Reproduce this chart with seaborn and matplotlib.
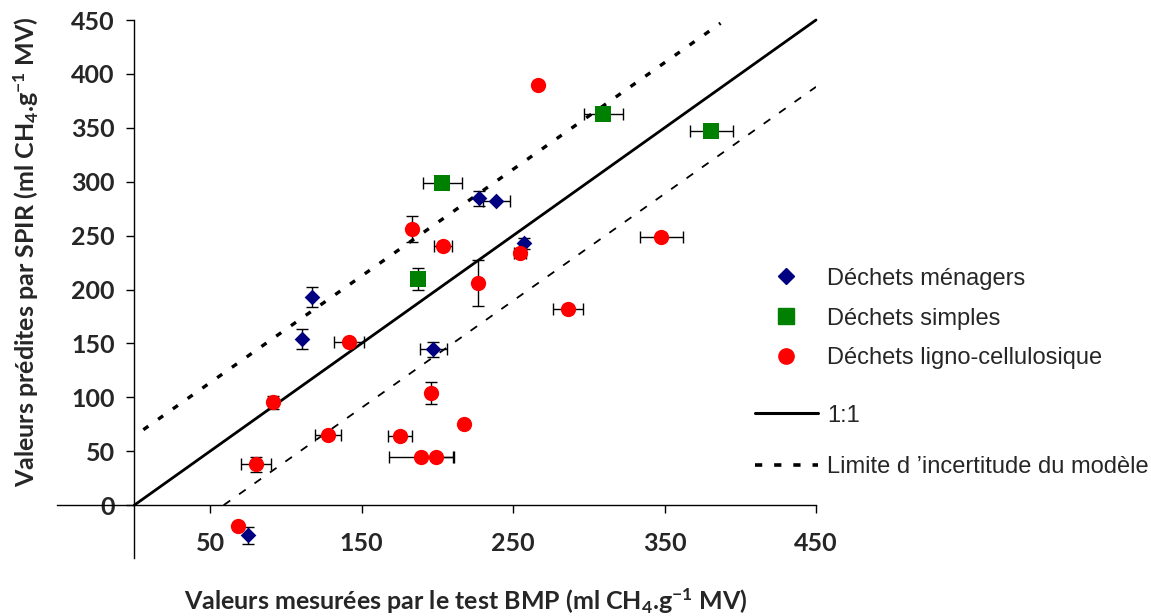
#%% IMPORTS
import numpy as np
import pandas as pd
import matplotlib
matplotlib.use("Agg")
import matplotlib.pyplot as plt
import seaborn as sns
from matplotlib.lines import Line2D

#%% DATOS
# Déchets ménagers (losanges)
men_x = [117.5, 110.9, 197.4, 227.7, 239.0, 257.4, 75.2]
men_y = [193.0, 154.0, 144.7, 284.8, 282.0, 243.0, -27.8]
men_xerr = [0, 0, 9, 0, 9, 0, 0]
men_yerr = [9, 9.5, 7, 7, 0, 5, 8]

# Déchets simples (carrés)
simp_x = [309.6, 380.9, 203.3, 187.5]
simp_y = [362.7, 347.0, 298.7, 209.6]
simp_xerr = [13, 14, 13, 0]
simp_yerr = [0, 0, 0, 10]

# Déchets ligno-cellulosique (ronds)
ligno_x = [266.7, 183.5, 204.0, 254.8, 227.0, 286.5, 347.9, 141.9, 91.7,
           196.0, 217.8, 128.0, 175.6, 189.4, 199.3, 80.5, 68.6]
ligno_y = [389.6, 256.0, 240.0, 233.8, 206.0, 181.8, 248.6, 151.2, 95.5,
           103.9, 75.1, 65.0, 64.0, 44.5, 44.5, 38.0, -19.5]
ligno_xerr = [0, 0, 6, 4, 0, 10, 14, 10, 0, 0, 0, 8.5, 8, 21, 12, 10, 0]
ligno_yerr = [0, 12, 0, 0, 21, 0, 0, 0, 6, 10, 0, 0, 0, 0, 0, 7, 0]

# droites de référence
ligne11_x = [0, 450]
ligne11_y = [0, 450]
lim_haut_x = [6, 387]
lim_haut_y = [70, 447]
lim_bas_x = [59, 450]
lim_bas_y = [0, 388]

x_ticks = [50, 150, 250, 350, 450]
y_ticks = [0, 50, 100, 150, 200, 250, 300, 350, 400, 450]

noms = ["Déchets ménagers", "Déchets simples", "Déchets ligno-cellulosique"]
couleurs = ["#000080", "#008000", "#FF0000"]
marqueurs = ["D", "s", "o"]
tailles = [8, 11, 11]

df = pd.concat([
    pd.DataFrame({"x": men_x, "y": men_y, "xerr": men_xerr, "yerr": men_yerr, "type": noms[0]}),
    pd.DataFrame({"x": simp_x, "y": simp_y, "xerr": simp_xerr, "yerr": simp_yerr, "type": noms[1]}),
    pd.DataFrame({"x": ligno_x, "y": ligno_y, "xerr": ligno_xerr, "yerr": ligno_yerr, "type": noms[2]}),
])

#%% GRAFICO
sns.set_style("ticks")
plt.rcParams["font.family"] = ["Lato", "DejaVu Sans"]
plt.rcParams["font.weight"] = "bold"
plt.rcParams["mathtext.fontset"] = "custom"
plt.rcParams["mathtext.bf"] = "Lato:bold"
plt.rcParams["mathtext.rm"] = "Lato:bold"
plt.rcParams["mathtext.default"] = "bf"
plt.rcParams["lines.scale_dashes"] = False

fig = plt.figure(figsize=(11.51, 6.16), dpi=100)
ax = fig.add_axes([57 / 1151, 58 / 616, 759 / 1151, 538 / 616])

# droites (tirets en points)
ax.plot(lim_haut_x, lim_haut_y, color="black", lw=2.4, ls=(0, (4.4, 8.6)), zorder=1)
ax.plot(lim_bas_x, lim_bas_y, color="black", lw=1.3, ls=(0, (5.8, 7.8)), zorder=1)
ax.plot(ligne11_x, ligne11_y, color="black", lw=2.0, zorder=1, clip_on=False)

# barres d'erreur
dx = df[df["xerr"] > 0]
ax.errorbar(dx["x"], dx["y"], xerr=dx["xerr"], fmt="none", ecolor="black",
            elinewidth=1, capsize=4, capthick=1, zorder=2)
dy = df[df["yerr"] > 0]
ax.errorbar(dy["x"], dy["y"], yerr=dy["yerr"], fmt="none", ecolor="black",
            elinewidth=1, capsize=4, capthick=1, zorder=2)

# points
for nom, c, m, t in zip(noms, couleurs, marqueurs, tailles):
    sns.scatterplot(data=df[df["type"] == nom], x="x", y="y", color=c, marker=m,
                    s=t ** 2, linewidth=0, ax=ax, zorder=3, legend=False)

ax.set_xlim(-51, 450)
ax.set_ylim(-49, 450)
ax.spines["left"].set_position(("data", 0))
ax.spines["bottom"].set_position(("data", 0))
ax.spines["top"].set_visible(False)
ax.spines["right"].set_visible(False)
for s in ["left", "bottom"]:
    ax.spines[s].set_color("black")
    ax.spines[s].set_linewidth(1)
ax.set_xticks(x_ticks)
ax.set_yticks(y_ticks)
ax.tick_params(axis="y", direction="out", length=6, width=1, pad=8, labelsize=18, color="black")
ax.tick_params(axis="x", direction="out", length=6, width=1, pad=13, labelsize=18, color="black")
ax.set_xlabel("")
ax.set_ylabel("")

fig.text(26 / 1151, 1 - 252 / 616, "Valeurs prédites par SPIR (ml CH$_4$.g$^{-1}$ MV)",
         rotation=90, ha="center", va="center", fontsize=18, fontweight="bold")
fig.text(466 / 1151, 1 - 601 / 616, "Valeurs mesurées par le test BMP (ml CH$_4$.g$^{-1}$ MV)",
         ha="center", va="center", fontsize=18, fontweight="bold")

# légendes
h_pts = [Line2D([], [], ls="none", marker=m, color=c, markersize=t)
         for c, m, t in zip(couleurs, marqueurs, tailles)]
leg1 = fig.legend(h_pts, noms, loc="center left", bbox_to_anchor=(755 / 1151, 1 - 318.5 / 616),
                  frameon=False, borderpad=0, borderaxespad=0, handlelength=2.65,
                  handletextpad=0.4, labelspacing=0.76,
                  prop={"family": "Liberation Sans", "size": 17, "weight": "normal"})
h_lig = [Line2D([], [], color="black", lw=2.2),
         Line2D([], [], color="black", lw=2.6, ls=(0, (5.2, 8.6)))]
leg2 = fig.legend(h_lig, ["1:1", "Limite d \u2019incertitude du modèle"], loc="center left",
                  bbox_to_anchor=(755 / 1151, 1 - 441.5 / 616),
                  frameon=False, borderpad=0, borderaxespad=0, handlelength=2.65,
                  handletextpad=0.4, labelspacing=1.25,
                  prop={"family": "Liberation Sans", "size": 17, "weight": "normal"})

fig.savefig("out.png", dpi=100)
plt.close()
